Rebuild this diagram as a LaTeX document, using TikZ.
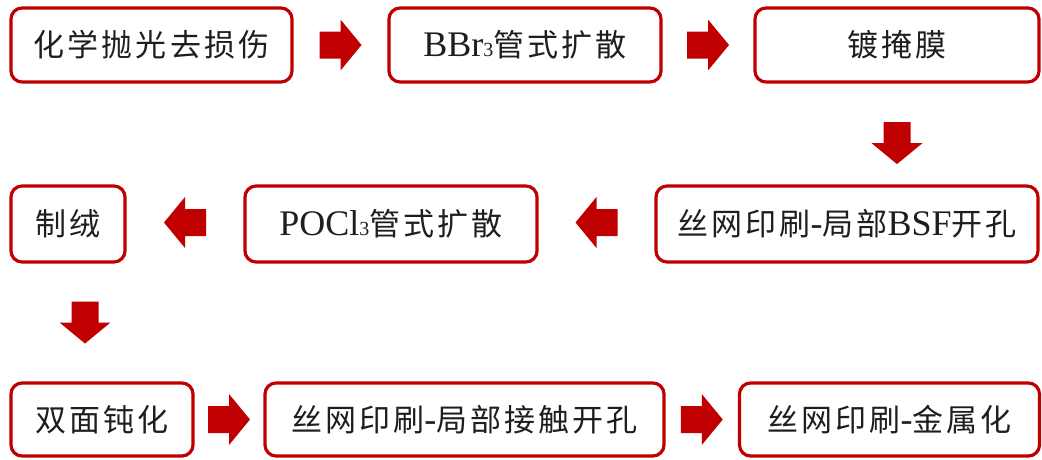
\documentclass[tikz,border=0pt]{standalone}
\usepackage{fontspec}
\setmainfont{Liberation Serif}
\newfontfamily\cjkfam[LetterSpace=10]{Noto Sans CJK SC}
\newcommand\zh[1]{{\cjkfam\fontsize{31}{36}\selectfont #1}}
\newcommand\subthree{{\fontsize{20}{20}\selectfont 3}}
\usetikzlibrary{calc}
\definecolor{boxred}{HTML}{C00000}
\definecolor{txt}{HTML}{1E1E1E}
\tikzset{
  stepbox/.style={draw=boxred, line width=3.2pt, rounded corners=11pt, fill=white,
    minimum height=74pt, inner sep=0pt, text=txt, font=\fontsize{36}{40}\selectfont},
  blockarrow/.pic={
    \fill[boxred] (-21,-13.5) -- (0,-13.5) -- (0,-25.5) -- (21,0) -- (0,25.5) -- (0,13.5) -- (-21,13.5) -- cycle;
  }
}
\begin{document}
\begin{tikzpicture}[x=1pt,y=-1pt]
\useasboundingbox (0,0) rectangle (1042,459);
% row 1
\node[stepbox, minimum width=281pt] (b1) at (151.5,45) {\zh{化学抛光去损伤}};
\node[stepbox, minimum width=272pt] (b2) at (525,45) {BBr\subthree\zh{管式扩散}};
\node[stepbox, minimum width=284pt] (b3) at (897,45) {\zh{镀掩膜}};
% row 2
\node[stepbox, minimum width=382pt, minimum height=76pt] (b4) at (847,224) {\zh{丝网印刷}-\zh{局部}BSF\zh{开孔}};
\node[stepbox, minimum width=292pt, minimum height=76pt] (b5) at (391,224) {POCl\subthree\zh{管式扩散}};
\node[stepbox, minimum width=114pt, minimum height=76pt] (b6) at (68,224) {\zh{制绒}};
% row 3
\node[stepbox, minimum width=182pt, minimum height=73pt] (b7) at (102,419.5) {\zh{双面钝化}};
\node[stepbox, minimum width=399pt, minimum height=73pt] (b8) at (464.5,419.5) {\zh{丝网印刷}-\zh{局部接触开孔}};
\node[stepbox, minimum width=300pt, minimum height=73pt] (b9) at (889.5,419.5) {\zh{丝网印刷}-\zh{金属化}};
% arrows
\coordinate (a1) at ($(b1.east)!0.5!(b2.west)$);
\coordinate (a2) at ($(b2.east)!0.5!(b3.west)$);
\coordinate (a3) at ($(b3.south)+(0,59.5)$);
\coordinate (a4) at ($(b4.west)!0.5!(b5.east)+(0,-1.5)$);
\coordinate (a5) at ($(b5.west)!0.5!(b6.east)+(0,-1.5)$);
\coordinate (a6) at ($(b6.south)!0.5!(b7.north)$);
\coordinate (a7) at ($(b7.east)!0.5!(b8.west)$);
\coordinate (a8) at ($(b8.east)!0.5!(b9.west)$);
\pic at (a1) {blockarrow};
\pic at (a2) {blockarrow};
\pic[rotate=-90] at (a3) {blockarrow};
\pic[rotate=180] at (a4) {blockarrow};
\pic[rotate=180] at (a5) {blockarrow};
\pic[rotate=-90] at (a6) {blockarrow};
\pic at (a7) {blockarrow};
\pic at (a8) {blockarrow};
\end{tikzpicture}
\end{document}
